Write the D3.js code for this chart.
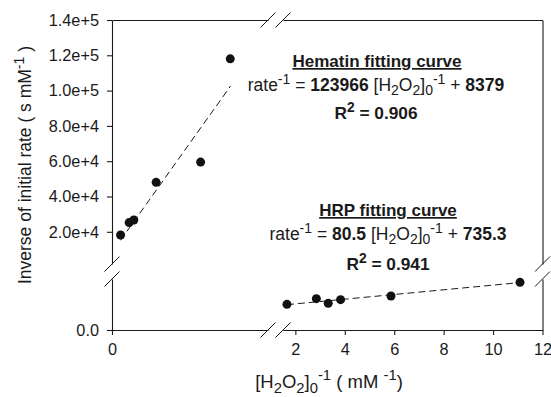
<!DOCTYPE html>
<html>
<head>
<meta charset="utf-8">
<script src="https://cdn.jsdelivr.net/npm/d3@7"></script>
<style>
  body { margin: 0; background: #fff; }
  svg { display: block; font-family: "Liberation Sans", Arial, sans-serif; }
  text { white-space: pre; fill: #1a1a1a; }
</style>
</head>
<body>
<svg id="chart" width="551" height="397"></svg>
<script>
// values
const hematinX = [0.055, 0.11, 0.14, 0.283, 0.568, 0.758];
const hematinY = [18200, 25200, 26700, 48000, 59500, 118000];
const hrpX = [1.66, 2.85, 3.33, 3.83, 5.87, 11.09];
const hrpY = [880, 1075, 915, 1040, 1165, 1635];

// fitted lines: slope, intercept, x start, x end
const hematinFit = [123966, 8379, 0.055, 0.76];
const hrpFit = [80.5, 735.3, 1.66, 11.09];

const xTicksLeft = [0];
const xTicksRight = [2, 4, 6, 8, 10, 12];
const yTicksLow = [0];
const yTicksHigh = [20000, 40000, 60000, 80000, 100000, 120000, 140000];

const svg = d3.select('#chart');
const ink = '#1a1a1a';

// broken axes: two segments on each axis
const xLeft = d3.scaleLinear().domain([0, 1]).range([112, 268]);
const xRight = d3.scaleLinear().domain([1.5, 12]).range([283, 542.5]);
const yLow = d3.scaleLinear().domain([0, 1750]).range([330, 279]);
const yHigh = d3.scaleLinear().domain([1750, 140000]).range([264, 20]);

const plotLeft = 112, plotRight = 542.5, plotTop = 20, plotBottom = 330;

const styleAxis = (g, size) => {
	g.selectAll('path, line').attr('stroke', ink).attr('stroke-width', 1.1);
	g.selectAll('text').attr('font-size', size).attr('fill', ink);
};

svg.append('g').attr('transform', `translate(${plotLeft},0)`)
	.call(d3.axisLeft(yHigh).tickValues(yTicksHigh).tickSize(5).tickPadding(8).tickSizeOuter(0)
		.tickFormat(d => d.toExponential(1)))
	.call(g => styleAxis(g, '16.3px'));
svg.append('g').attr('transform', `translate(${plotLeft},0)`)
	.call(d3.axisLeft(yLow).tickValues(yTicksLow).tickSize(5).tickPadding(8).tickSizeOuter(0)
		.tickFormat(d => d.toFixed(1)))
	.call(g => styleAxis(g, '16.3px'));
svg.append('g').attr('transform', `translate(0,${plotBottom})`)
	.call(d3.axisBottom(xLeft).tickValues(xTicksLeft).tickSize(5).tickPadding(8).tickSizeOuter(0)
		.tickFormat(d3.format('d')))
	.call(g => styleAxis(g, '16.3px'));
svg.append('g').attr('transform', `translate(0,${plotBottom})`)
	.call(d3.axisBottom(xRight).tickValues(xTicksRight).tickSize(5).tickPadding(8).tickSizeOuter(0)
		.tickFormat(d3.format('d')))
	.call(g => styleAxis(g, '16.3px'));

// frame on top and right
svg.append('g').attr('transform', `translate(0,${plotTop})`)
	.call(d3.axisTop(xLeft).tickValues([]).tickSizeOuter(0)).call(g => styleAxis(g));
svg.append('g').attr('transform', `translate(0,${plotTop})`)
	.call(d3.axisTop(xRight).tickValues([]).tickSizeOuter(0)).call(g => styleAxis(g));
svg.append('g').attr('transform', `translate(${plotRight},0)`)
	.call(d3.axisRight(yHigh).tickValues([]).tickSizeOuter(0)).call(g => styleAxis(g));
svg.append('g').attr('transform', `translate(${plotRight},0)`)
	.call(d3.axisRight(yLow).tickValues([]).tickSizeOuter(0)).call(g => styleAxis(g));

// break marks
const breaks = [
	[plotLeft, yHigh.range()[0]], [plotLeft, yLow.range()[1]],
	[plotRight, yHigh.range()[0]], [plotRight, yLow.range()[1]],
	[xLeft.range()[1], plotBottom], [xRight.range()[0], plotBottom],
	[xLeft.range()[1], plotTop], [xRight.range()[0], plotTop]
];
svg.append('g').selectAll('line').data(breaks).enter().append('line')
	.attr('x1', d => d[0] - 7.5).attr('y1', d => d[1] + 7.5)
	.attr('x2', d => d[0] + 7.5).attr('y2', d => d[1] - 7.5)
	.attr('stroke', ink).attr('stroke-width', 1);

// fit lines
const fitLine = (fit, xs, ys) => {
	const [m, b, x0, x1] = fit;
	svg.append('line')
		.attr('x1', xs(x0)).attr('y1', ys(m * x0 + b))
		.attr('x2', xs(x1)).attr('y2', ys(m * x1 + b))
		.attr('stroke', ink).attr('stroke-width', 1).attr('stroke-dasharray', '7,4');
};
fitLine(hematinFit, xLeft, yHigh);
fitLine(hrpFit, xRight, yLow);

// points
const hematin = hematinX.map((x, i) => [x, hematinY[i]]);
const hrp = hrpX.map((x, i) => [x, hrpY[i]]);
svg.append('g').selectAll('circle').data(hematin).enter().append('circle')
	.attr('cx', d => xLeft(d[0])).attr('cy', d => yHigh(d[1])).attr('r', 4.5).attr('fill', '#111');
svg.append('g').selectAll('circle').data(hrp).enter().append('circle')
	.attr('cx', d => xRight(d[0])).attr('cy', d => yLow(d[1])).attr('r', 4.5).attr('fill', '#111');

// text with sub/superscripts
const richText = (x, y, parts, size, opts = {}) => {
	const t = svg.append('text')
		.attr('x', x).attr('y', y)
		.attr('text-anchor', opts.anchor || 'middle')
		.attr('font-size', size)
		.attr('transform', opts.rotate ? `rotate(-90,${x},${y})` : null);
	let shift = 0;
	parts.forEach(p => {
		const off = p.sup ? -size * 0.42 : p.sub ? size * 0.25 : 0;
		t.append('tspan')
			.attr('dy', off - shift)
			.attr('font-size', p.sup || p.sub ? size * 0.8 : null)
			.attr('font-weight', p.b ? 'bold' : null)
			.text(p.t);
		shift = off;
	});
	return t;
};

const h2o2 = [
	{ t: '[H' }, { t: '2', sub: 1 }, { t: 'O' }, { t: '2', sub: 1 }, { t: ']' },
	{ t: '0', sub: 1 }, { t: '-1', sup: 1 }
];

svg.append('text').attr('x', 377).attr('y', 67).attr('text-anchor', 'middle')
	.attr('font-size', 17).attr('font-weight', 'bold').attr('text-decoration', 'underline')
	.text('Hematin fitting curve');
richText(376, 91, [{ t: 'rate' }, { t: '-1', sup: 1 }, { t: ' = ' }, { t: '123966', b: 1 }, { t: ' ' },
	...h2o2, { t: ' + ' }, { t: '8379', b: 1 }], 17.5);
richText(376, 119, [{ t: 'R', b: 1 }, { t: '2', sup: 1, b: 1 }, { t: ' = 0.906', b: 1 }], 17.3);

svg.append('text').attr('x', 388).attr('y', 216).attr('text-anchor', 'middle')
	.attr('font-size', 17).attr('font-weight', 'bold').attr('text-decoration', 'underline')
	.text('HRP fitting curve');
richText(388, 240, [{ t: 'rate' }, { t: '-1', sup: 1 }, { t: ' = ' }, { t: '80.5', b: 1 }, { t: ' ' },
	...h2o2, { t: ' + ' }, { t: '735.3', b: 1 }], 17.5);
richText(388, 270, [{ t: 'R', b: 1 }, { t: '2', sup: 1, b: 1 }, { t: ' = 0.941', b: 1 }], 17.3);

// axis titles
richText(329, 388, [...h2o2, { t: ' ( mM ' }, { t: '-1', sup: 1 }, { t: ')' }], 18.5);
richText(31, 165, [{ t: 'Inverse of initial rate ( s mM' }, { t: '-1', sup: 1 }, { t: ' )' }], 17.5,
	{ rotate: true });
</script>
</body>
</html>
